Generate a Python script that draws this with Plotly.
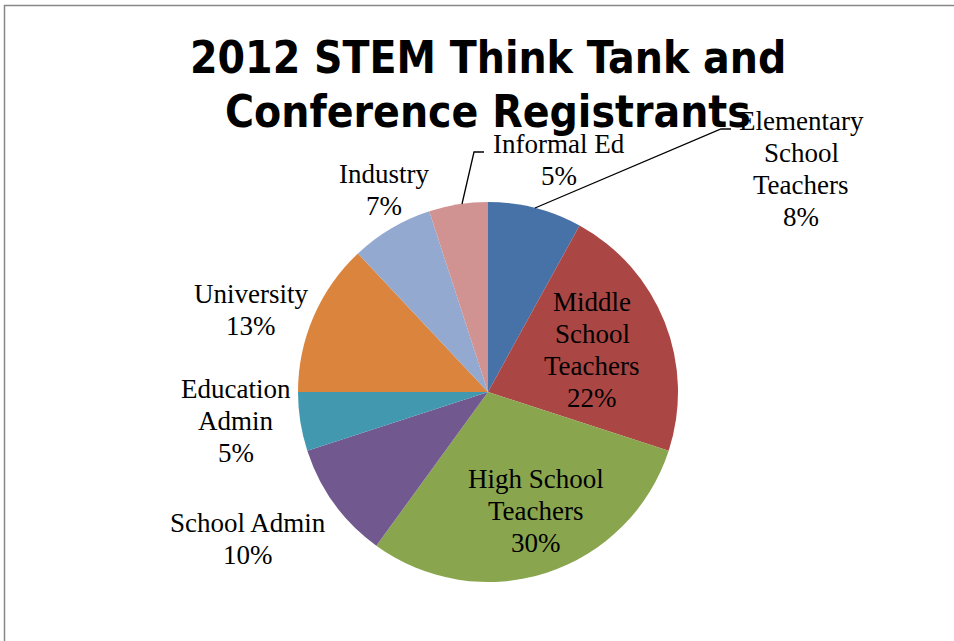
import plotly.graph_objects as go

W, H = 954, 641

categories = ["Elementary School Teachers", "Middle School Teachers", "High School Teachers",
              "School Admin", "Education Admin", "University", "Industry", "Informal Ed"]
values = [8, 22, 30, 10, 5, 13, 7, 5]
display_labels = ["Elementary<br>School<br>Teachers", "Middle<br>School<br>Teachers",
                  "High School<br>Teachers", "School Admin", "Education<br>Admin",
                  "University", "Industry", "Informal Ed"]
colors = ["#4672A8", "#AA4644", "#89A54E", "#71588F", "#4198AF", "#DB843D", "#93A9D0", "#D09392"]
title_lines = ["2012 STEM Think Tank and", "Conference Registrants"]

# label centre positions in pixels (layout only)
label_pos = [(801, 169), (592, 350), (536, 511), (248, 539), (236, 421), (251, 310), (384, 190), (559, 160)]
LINE = 32

def px(x):
    return x / W

def py(y):
    return 1 - y / H

fig = go.Figure(go.Pie(
    labels=categories, values=values, sort=False, direction="clockwise", rotation=0,
    marker=dict(colors=colors, line=dict(width=0)),
    textinfo="none", hoverinfo="label+percent", showlegend=False,
    domain=dict(x=[px(298), px(678)], y=[py(582), py(202)]),
))

total = sum(values)
annotations = []
for lab, v, (x, y) in zip(display_labels, values, label_pos):
    lines = lab.split("<br>") + [f"{round(100 * v / total)}%"]
    n = len(lines)
    for i, ln in enumerate(lines):
        yy = y + (i - (n - 1) / 2) * LINE
        annotations.append(dict(
            x=px(x), y=py(yy), xref="paper", yref="paper", xanchor="center", yanchor="middle",
            text=ln, showarrow=False, align="center",
            font=dict(family="Liberation Serif", size=27, color="#000000"),
        ))

for ln, yy in zip(title_lines, [57, 111]):
    annotations.append(dict(
        x=px(488), y=py(yy), xref="paper", yref="paper", xanchor="center", yanchor="middle",
        text=f"<b>{ln}</b>", showarrow=False, align="center",
        font=dict(family="DejaVu Sans Condensed, Lato", size=44, color="#000000"),
    ))

shapes = [
    dict(type="rect", xref="paper", yref="paper", x0=px(4.5), x1=1.05, y0=-0.05, y1=py(5.5),
         line=dict(color="#878787", width=1.5), fillcolor="rgba(0,0,0,0)"),
    dict(type="path", xref="paper", yref="paper",
         path=f"M {px(535)} {py(208)} L {px(721)} {py(129)} L {px(731)} {py(129)}",
         line=dict(color="#000000", width=1.3)),
    dict(type="path", xref="paper", yref="paper",
         path=f"M {px(462)} {py(204)} L {px(474)} {py(152)} L {px(484)} {py(152)}",
         line=dict(color="#000000", width=1.3)),
]

fig.update_layout(
    width=W, height=H, margin=dict(l=0, r=0, t=0, b=0),
    paper_bgcolor="#FFFFFF", plot_bgcolor="#FFFFFF",
    annotations=annotations, shapes=shapes,
)

fig.write_html("out.html")
